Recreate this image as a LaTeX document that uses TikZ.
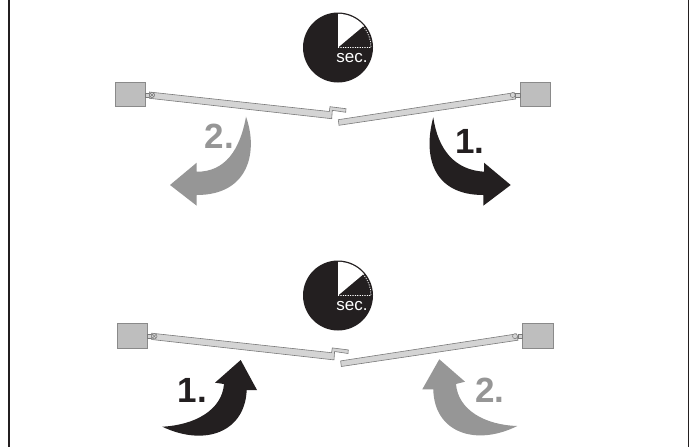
\documentclass[tikz,border=0pt]{standalone}
\usepackage{fontspec}
\setmainfont{Liberation Sans}
\definecolor{ink}{HTML}{231F20}
\definecolor{midgrey}{HTML}{969696}
\definecolor{boxfill}{HTML}{BEBEBE}
\definecolor{boxedge}{HTML}{8A8A8A}
\definecolor{leaffill}{HTML}{D4D4D4}
\definecolor{leafedge}{HTML}{7A7A7A}
\tikzset{
  frameline/.style={draw=ink,line width=1.1pt},
  motorbox/.style={fill=boxfill,draw=boxedge,line width=.7pt},
  leaf/.style={fill=leaffill,draw=leafedge,line width=.6pt,line join=miter},
  hingelink/.style={fill=leaffill,draw=leafedge,line width=.5pt},
  bigno/.style={inner sep=0pt,anchor=base west,font=\fontsize{35}{35}\selectfont\bfseries},
  seclabel/.style={inner sep=0pt,text=white,font=\fontsize{17}{17}\selectfont},
  dottedwhite/.style={draw=white,line width=.7pt,dash pattern=on 1.2pt off 1.2pt},
  pics/gate/.style={code={
    \draw[motorbox] (115,82) rectangle (145,106.7);
    \draw[hingelink] (145,93) rectangle (150,97);
    \draw[leaf] (149.3,92) -- (329.3,111.5) -- (330,106.7) -- (346,108.7) -- (345.7,112.3) -- (332.3,110.3) -- (331.7,118.7) -- (149.3,98.3) -- cycle;
    \draw[hingelink] (152,95) circle (2.7);
    \draw[leafedge,line width=.4pt] (150.2,93.2) -- (153.8,96.8) (150.2,96.8) -- (153.8,93.2);
    \draw[motorbox] (520,82) rectangle (550.7,106.7);
    \draw[hingelink] (515.7,93.3) rectangle (520,97.3);
    \draw[leaf] (338.3,119.7) -- (339,125.3) -- (515.7,99) -- (514.3,92.7) -- cycle;
    \draw[hingelink] (512.7,95) circle (2.5);
  }},
  pics/clock/.style={code={
    \begin{scope}[y=1pt]
      \fill[ink] (0,0) circle (35);
      \fill[white] (0,0) -- (0,33.7) arc[start angle=90,end angle=40,radius=33.7] -- cycle;
      \draw[dottedwhite] (0,0) -- (33,0) arc[start angle=0,end angle=40,radius=33];
    \end{scope}
  }}
}
\begin{document}
\begin{tikzpicture}[x=1pt,y=-1pt]
\useasboundingbox[fill=white] (0,0) rectangle (694,447);
\draw[frameline] (9,0) -- (9,447);
\draw[frameline] (688.5,0) -- (688.5,447);

% top clock
\pic at (338,47.5) {clock};
\node[seclabel] (sectop) at (352,58) {sec.};
% bottom clock
\pic at (338,295.5) {clock};
\node[seclabel] (secbot) at (352,306) {sec.};

% gates
\pic at (0,0) {gate};
\pic at (2.3,241.2) {gate};

% top grey arrow
\fill[midgrey] (246,116.7) .. controls (258,150) and (250,195) .. (196.7,195)
  -- (196.7,205.7) -- (170,185) -- (196.7,162.7) -- (196.7,171.7)
  .. controls (225,172) and (240,150) .. (246,116.7) -- cycle;
\node[bigno,text=midgrey] (twotop) at (204.5,148.3) {2.};

% top black arrow
\fill[ink] (433.3,117.3) .. controls (423,155) and (432,195) .. (483.3,195)
  -- (483.3,205.7) -- (510.7,185) -- (484,162.7) -- (484,171.7)
  .. controls (455,170) and (438,150) .. (433.3,117.3) -- cycle;
\node[bigno,text=ink] (onetop) at (455,153) {1.};

% bottom black arrow
\fill[ink] (162.3,426.7) .. controls (205,447) and (245,432) .. (246.7,390)
  -- (257,390) -- (240.7,360) -- (215,382.7) -- (224,384)
  .. controls (222,410) and (195,425) .. (162.3,426.7) -- cycle;
\node[bigno,text=ink] (onebot) at (177.5,402.3) {1.};

% bottom grey arrow
\fill[midgrey] (517.3,426) .. controls (475,447) and (434,432) .. (433.3,389.3)
  -- (422.3,389.3) -- (439.3,359.3) -- (465,381.7) -- (456,384)
  .. controls (458,410) and (485,425) .. (517.3,426) -- cycle;
\node[bigno,text=midgrey] (twobot) at (475,402.3) {2.};
\end{tikzpicture}
\end{document}
